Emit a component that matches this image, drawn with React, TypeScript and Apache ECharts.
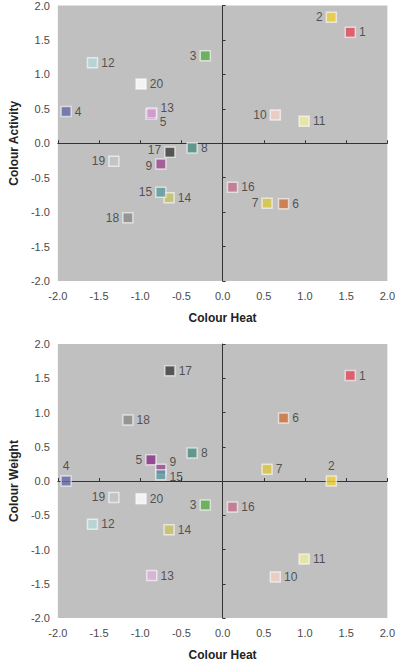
import React, { useEffect, useRef } from "react";
import * as echarts from "echarts";

const ids = ["1","2","3","4","5","6","7","8","9","10","11","12","13","14","15","16","17","18","19","20"];
const colors = ["#e04858","#f0d038","#5aaa48","#6468a8","#8a2c88","#d0703c","#dcc840","#4a8c80","#9a4890","#f2cfc4","#f0eca0","#b4d8d8","#dcb0dc","#c8c468","#5c9aa0","#c07088","#3a3a38","#8a8a88","#c4c4c4","#ffffff"];
const heat = [1.55,1.32,-0.21,-1.9,-0.87,0.74,0.54,-0.37,-0.75,0.64,0.99,-1.58,-0.86,-0.65,-0.75,0.12,-0.64,-1.15,-1.32,-0.99];
const activity = [1.61,1.83,1.27,0.46,0.42,-0.88,-0.87,-0.07,-0.3,0.41,0.32,1.17,0.44,-0.79,-0.71,-0.64,-0.13,-1.08,-0.26,0.86];
const weight = [1.54,0.0,-0.35,0.0,0.31,0.92,0.17,0.41,0.17,-1.4,-1.14,-0.63,-1.38,-0.71,0.09,-0.38,1.61,0.89,-0.24,-0.26];

const topLabelSide: Record<string, string> = { "2": "left", "3": "left", "10": "left", "17": "left", "19": "left", "9": "left", "15": "left", "18": "left", "7": "left" };
const topLabelOffset: Record<string, number[]> = { "13": [0, -5], "5": [0, 8], "17": [0, -2], "9": [0, 2] };
const bottomLabelSide: Record<string, string> = { "2": "top", "4": "top", "3": "left", "5": "left", "19": "left" };
const bottomLabelOffset: Record<string, number[]> = { "9": [0, -7], "15": [0, 2] };

const axisLabelStyle = { color: "#4a4a4a", fontSize: 11, fontFamily: "Liberation Sans" };
const nameStyle = { color: "#222", fontSize: 12, fontWeight: "bold" as const, fontFamily: "Liberation Sans" };
const fmt = (v: number) => v.toFixed(1);

function makeAxes(gi: number, xName: string, yName: string) {
  const base = { gridIndex: gi, type: "value" as const, min: -2, max: 2, interval: 0.5, splitLine: { show: false } };
  const x = [
    { ...base, position: "bottom", axisLine: { show: false }, axisTick: { show: false },
      axisLabel: { ...axisLabelStyle, formatter: fmt, margin: 9 },
      name: xName, nameLocation: "middle", nameGap: 31, nameTextStyle: nameStyle },
    { ...base, position: "bottom", axisLine: { show: true, onZero: true, lineStyle: { color: "#333", width: 1 } },
      axisTick: { show: true, inside: true, length: 3, lineStyle: { color: "#333" } }, axisLabel: { show: false } },
  ];
  const y = [
    { ...base, position: "left", axisLine: { show: false }, axisTick: { show: false },
      axisLabel: { ...axisLabelStyle, formatter: fmt, margin: 8 },
      name: yName, nameLocation: "middle", nameGap: 29, nameTextStyle: nameStyle },
    { ...base, position: "left", axisLine: { show: true, onZero: true, lineStyle: { color: "#333", width: 1 } },
      axisTick: { show: true, inside: true, length: 3, lineStyle: { color: "#333" } }, axisLabel: { show: false } },
  ];
  return { x, y };
}

function makeSeries(gi: number, yVals: number[], side: Record<string, string>, offs: Record<string, number[]>) {
  return {
    type: "scatter",
    xAxisIndex: gi * 2,
    yAxisIndex: gi * 2,
    symbol: "rect",
    symbolSize: 10,
    data: ids.map((id, i) => ({
      name: id,
      value: [heat[i], yVals[i]],
      itemStyle: { color: colors[i], borderColor: "rgba(255,255,255,0.75)", borderWidth: 1.5 },
      label: { position: side[id] || "right", offset: offs[id] || [0, 0] },
    })),
    label: { show: true, formatter: "{b}", color: "#333", fontSize: 12, fontFamily: "Liberation Sans", distance: 3 },
  };
}

export default function App() {
  const ref = useRef<HTMLDivElement>(null);
  useEffect(() => {
    document.body.style.margin = "0";
    if (!ref.current) return;
    const chart = echarts.init(ref.current, null, { renderer: "svg" });
    const a0 = makeAxes(0, "Colour Heat", "Colour Activity");
    const a1 = makeAxes(1, "Colour Heat", "Colour Weight");
    chart.setOption({
      animation: false,
      backgroundColor: "#ffffff",
      grid: [
        { left: 44, width: 348, top: 5, height: 276, show: true, backgroundColor: "#c0c0c0", borderWidth: 0 },
        { left: 44, width: 348, top: 344, height: 277, show: true, backgroundColor: "#c0c0c0", borderWidth: 0 },
      ],
      xAxis: [...a0.x, ...a1.x],
      yAxis: [...a0.y, ...a1.y],
      series: [
        makeSeries(0, activity, topLabelSide, topLabelOffset),
        makeSeries(1, weight, bottomLabelSide, bottomLabelOffset),
      ],
    });
    return () => chart.dispose();
  }, []);
  return <div ref={ref} style={{ width: 398, height: 662 }} />;
}
